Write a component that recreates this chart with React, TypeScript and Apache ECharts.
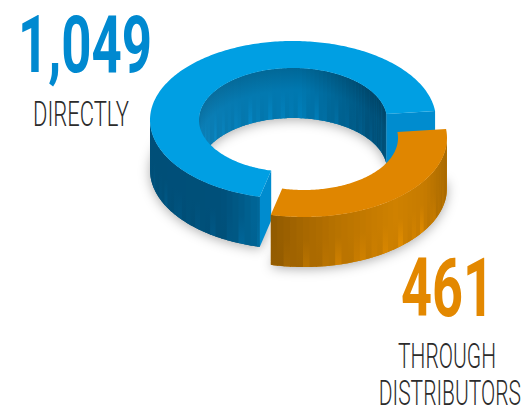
import React, { useEffect, useRef } from "react";
import * as echarts from "echarts";

const channels = ["DIRECTLY", "THROUGH DISTRIBUTORS"];
const units = [1049, 461];
const valueColors = ["#0089d0", "#e38800"];
const topColors = ["#009fe3", "#e08600"];
const capColors = ["#008ccf", "#c87800"];

// [x position, colour] ramps for the cylinder walls
const outerRamps: [number, string][][] = [
  [[150, "#004f78"], [222, "#00507a"], [240, "#005a87"], [262, "#006a9c"]],
  [[270, "#8f5900"], [300, "#a46600"], [340, "#b97300"], [395, "#cf8100"], [425, "#c67b00"], [447, "#a86900"]],
];
const innerRamp: [number, string][] = [[199, "#0c7fb6"], [240, "#0579b0"], [300, "#0078b0"], [345, "#00608f"], [372, "#005079"], [387, "#004f76"]];

// Brightness flicks of the wall facets, lower edge only
const streaks = [0.02, -0.02, 0.06, 0, -0.02, 0.1, 0, -0.02, 0.04, 0, 0.12, 0, -0.02, 0.04, 0.07, -0.02];

const RX = 143, RY = 79, IRX = 94, IRY = 52, DEPTH = 50;
const CX = 293, CY = 120;
const START = 6.5;
const offsets = [[0, 0], [11, 18]];

const hex = (c: string) => [1, 3, 5].map((i) => parseInt(c.slice(i, i + 2), 16));
const rgb = (a: number[]) => `rgb(${a.map((v) => Math.max(0, Math.min(255, Math.round(v)))).join(",")})`;
function ramp(stops: [number, string][], x: number) {
  if (x <= stops[0][0]) return hex(stops[0][1]);
  for (let i = 1; i < stops.length; i++) {
    if (x <= stops[i][0]) {
      const t = (x - stops[i - 1][0]) / (stops[i][0] - stops[i - 1][0]);
      const a = hex(stops[i - 1][1]), b = hex(stops[i][1]);
      return a.map((v, k) => v + (b[k] - v) * t);
    }
  }
  return hex(stops[stops.length - 1][1]);
}

function renderSlice(params: any, api: any) {
  const idx = params.dataIndex;
  const total = units.reduce((s, v) => s + v, 0);
  const before = units.slice(0, idx).reduce((s, v) => s + v, 0);
  const a0 = START + (before / total) * 360;
  const a1 = a0 + (api.value(0) / total) * 360;
  const cx = CX + offsets[idx][0], cy = CY + offsets[idx][1];
  const pt = (rx: number, ry: number, deg: number, dy = 0): number[] => [
    cx + rx * Math.cos((deg * Math.PI) / 180),
    cy - ry * Math.sin((deg * Math.PI) / 180) + dy,
  ];
  const arc = (rx: number, ry: number, from: number, to: number, dy = 0) => {
    const out: number[][] = [];
    const n = Math.max(2, Math.ceil(Math.abs(to - from)));
    for (let i = 0; i <= n; i++) out.push(pt(rx, ry, from + ((to - from) * i) / n, dy));
    return out;
  };
  const children: any[] = [];

  // Soft floor shadow, its body hidden behind the walls
  children.push({
    type: "polygon",
    z2: -10,
    shape: { points: [...arc(RX, RY, a0, a1, DEPTH - 3), ...arc(IRX, IRY, a1, a0, DEPTH - 3)] },
    style: { fill: "#ececec", shadowBlur: 12, shadowColor: "rgba(0,0,0,0.32)", shadowOffsetY: 5 },
  });

  const wall = (rx: number, ry: number, from: number, to: number, stops: [number, string][], topDark: number) => {
    const step = 2.6;
    let k = 0;
    children.push({
      type: "polygon",
      shape: { points: [...arc(rx, ry, from, to), ...arc(rx, ry, to, from, DEPTH)] },
      style: { fill: rgb(ramp(stops, pt(rx, ry, (from + to) / 2)[0])) },
    });
    for (let d = from; d < to - 0.01; d += step, k++) {
      const e = Math.min(to, d + step + 0.4);
      const p = pt(rx, ry, (d + e) / 2);
      const base = ramp(stops, p[0]);
      const s = streaks[k % streaks.length];
      children.push({
        type: "polygon",
        shape: { points: [...arc(rx, ry, d, e), ...arc(rx, ry, e, d, DEPTH)] },
        style: {
          fill: new echarts.graphic.LinearGradient(0, 0, 0, 1, [
            { offset: 0, color: rgb(base.map((v) => v * topDark)) },
            { offset: 0.45, color: rgb(base) },
            { offset: 1, color: rgb(base.map((v) => v * (1 + s))) },
          ]),
        },
      });
    }
  };

  const innerFrom = a0, innerTo = Math.min(a1, 180);
  if (innerTo > innerFrom) wall(IRX, IRY, innerFrom, innerTo, innerRamp, 0.86);
  const outerFrom = Math.max(a0, 180), outerTo = Math.min(a1, 360);
  if (outerTo > outerFrom) wall(RX, RY, outerFrom, outerTo, outerRamps[idx], 1);

  // End caps that face the viewer; the far side of each slice stays hidden
  if (idx === 0) {
    [a0, a1].forEach((a) => {
      const pi = pt(IRX, IRY, a), po = pt(RX, RY, a);
      children.push({
        type: "polygon",
        shape: { points: [pi, po, [po[0], po[1] + DEPTH], [pi[0], pi[1] + DEPTH]] },
        style: { fill: capColors[idx] },
      });
    });
  }

  children.push({
    type: "polygon",
    shape: { points: [...arc(RX, RY, a0, a1), ...arc(IRX, IRY, a1, a0)] },
    style: { fill: topColors[idx] },
  });
  return { type: "group", children };
}

// Condensed lettering: small base size stretched vertically
const text = (t: string, x: number, y: number, weight: number, size: number, fill: string, scaleX: number, scaleY: number, align: string) => ({
  type: "text",
  x,
  y,
  scaleX,
  scaleY,
  style: { text: t, x: 0, y: 0, font: `${weight} ${size}px Roboto`, fill, align, verticalAlign: "middle" },
});

export default function App() {
  const ref = useRef<HTMLDivElement>(null);
  useEffect(() => {
    const chart = echarts.init(ref.current!, undefined, { renderer: "svg" });
    chart.setOption({
      animation: false,
      backgroundColor: "#ffffff",
      series: [
        {
          type: "custom",
          coordinateSystem: "none",
          renderItem: renderSlice,
          data: units.map((v, i) => ({ name: channels[i], value: [v] })),
          silent: true,
        },
      ],
      graphic: [
        text(units[0].toLocaleString("en-US"), 18, 45, 700, 52, valueColors[0], 1.015, 1.54, "left"),
        text("DIRECTLY", 33, 114, 300, 22, "#2b2b2b", 1.0, 1.59, "left"),
        text(units[1].toLocaleString("en-US"), 494, 288, 700, 52, valueColors[1], 1.04, 1.56, "right"),
        text("THROUGH", 496, 356, 300, 21, "#2b2b2b", 1.0, 1.67, "right"),
        text("DISTRIBUTORS", 521, 392.5, 300, 21, "#2b2b2b", 1.0, 1.67, "right"),
      ],
    });
    return () => chart.dispose();
  }, []);
  return <div ref={ref} style={{ position: "absolute", left: 0, top: 0, width: 529, height: 411 }} />;
}
